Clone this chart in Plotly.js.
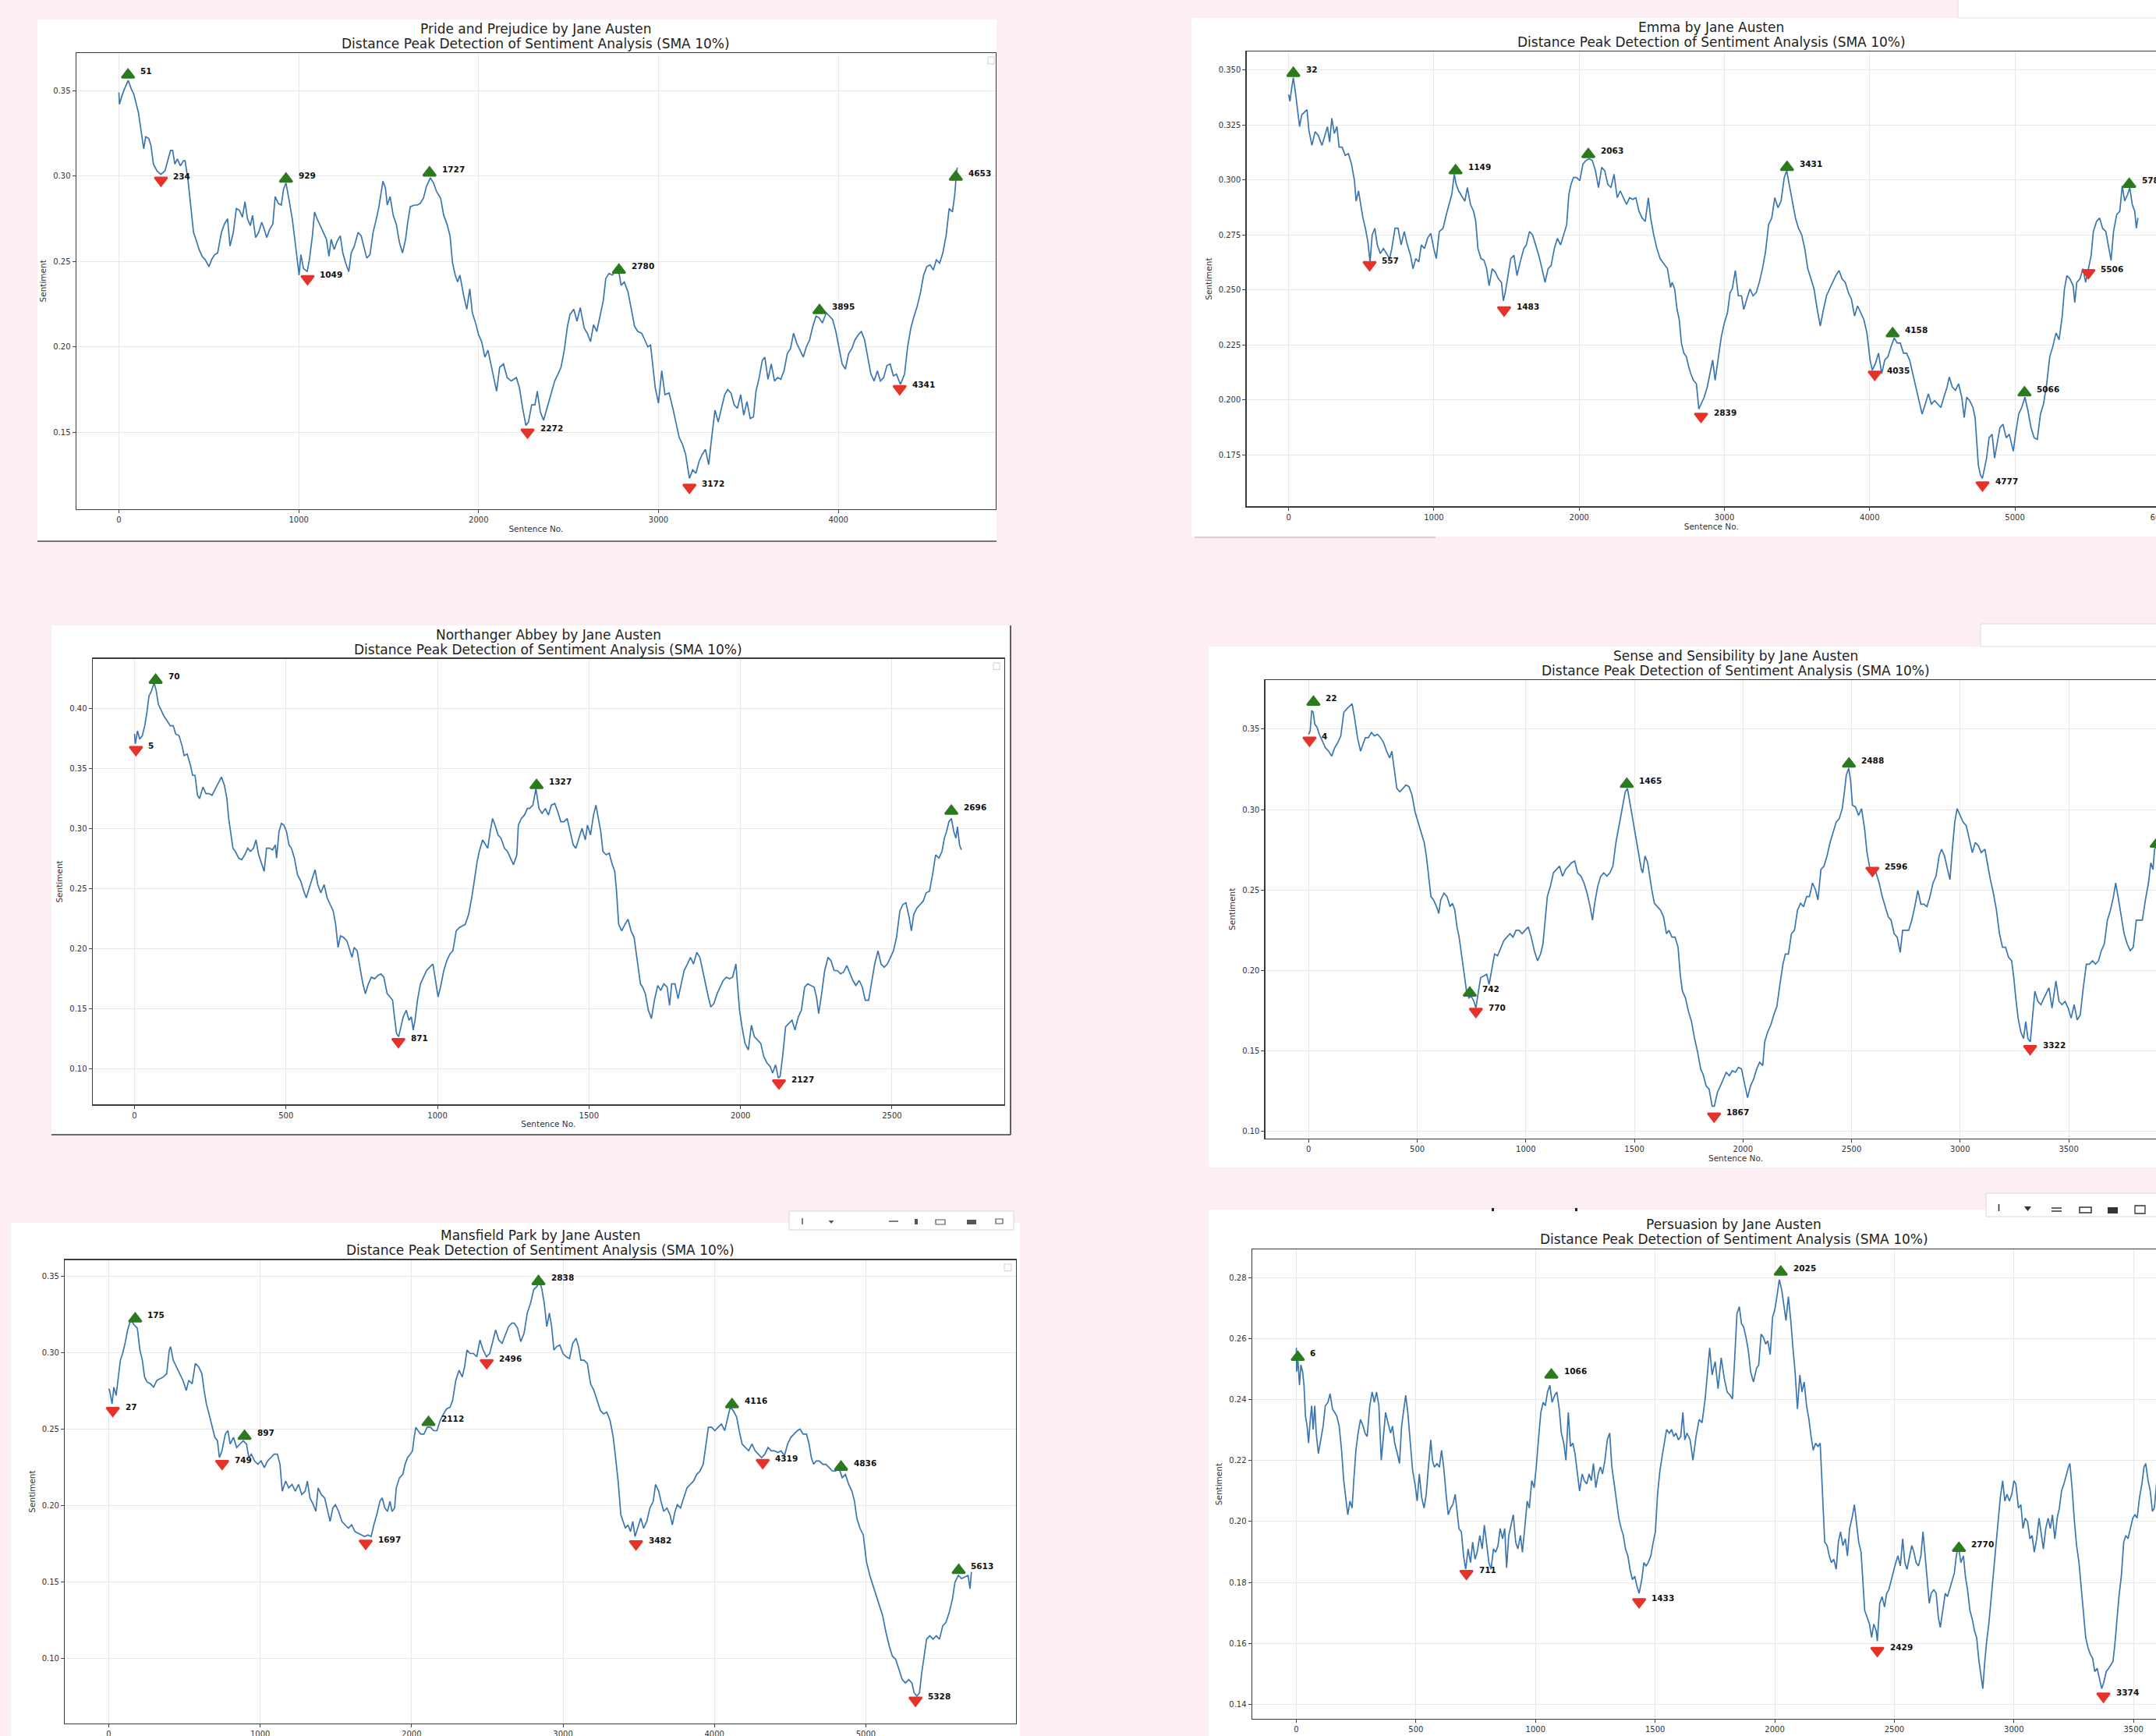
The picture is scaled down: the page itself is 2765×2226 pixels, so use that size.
<!DOCTYPE html>
<html><head><meta charset="utf-8">
<script src="https://cdn.plot.ly/plotly-3.0.1.min.js"></script>
<style>html,body{margin:0;padding:0;overflow:hidden;background:#fdeef3;}#chart{width:2860px;height:2226px;}</style>
</head><body><div id="chart"></div>
<script>
// ---------------- DATA ----------------
const bookTitles = ["Pride and Prejudice by Jane Austen","Emma by Jane Austen","Northanger Abbey by Jane Austen","Sense and Sensibility by Jane Austen","Mansfield Park by Jane Austen","Persuasion by Jane Austen"];
const subTitle = "Distance Peak Detection of Sentiment Analysis (SMA 10%)";
const xLabel = "Sentence No.";
const yLabel = "Sentiment";

const prideLine = [[0,.349],[3,.342],[17,.347],[31,.351],[52,.356],[69,.351],[83,.348],[109,.337],[131,.321],[138,.316],[149,.323],[166,.322],[178,.318],[192,.307],[212,.303],[233,.301],[256,.303],[273,.309],[287,.315],[299,.315],[311,.307],[325,.310],[342,.306],[359,.309],[368,.309],[385,.297],[402,.279],[415,.267],[428,.263],[446,.257],[463,.253],[480,.251],[501,.247],[515,.251],[532,.254],[549,.255],[570,.267],[587,.272],[604,.275],[618,.259],[636,.267],[653,.281],[670,.280],[687,.276],[701,.285],[715,.275],[731,.271],[743,.277],[760,.264],[777,.267],[794,.273],[808,.269],[822,.264],[839,.269],[856,.272],[869,.288],[886,.284],[903,.283],[915,.292],[929,.296],[946,.286],[964,.275],[978,.263],[991,.251],[1002,.242],[1012,.254],[1026,.246],[1047,.244],[1059,.251],[1076,.265],[1088,.279],[1102,.275],[1119,.271],[1136,.267],[1154,.263],[1168,.253],[1180,.263],[1197,.257],[1214,.262],[1231,.265],[1245,.255],[1261,.249],[1278,.244],[1292,.255],[1309,.259],[1330,.267],[1347,.265],[1361,.259],[1378,.252],[1396,.254],[1413,.267],[1427,.273],[1444,.281],[1456,.289],[1468,.297],[1482,.293],[1492,.283],[1508,.288],[1525,.277],[1542,.272],[1560,.261],[1577,.255],[1594,.263],[1606,.273],[1620,.282],[1641,.283],[1658,.283],[1675,.284],[1693,.287],[1710,.294],[1732,.299],[1749,.296],[1766,.291],[1789,.287],[1806,.277],[1824,.272],[1841,.265],[1855,.249],[1870,.242],[1883,.238],[1896,.242],[1917,.230],[1934,.222],[1951,.234],[1965,.220],[1983,.214],[2000,.207],[2017,.203],[2035,.194],[2052,.198],[2069,.190],[2086,.182],[2100,.174],[2117,.188],[2138,.190],[2159,.182],[2181,.180],[2210,.182],[2227,.176],[2245,.164],[2263,.154],[2277,.156],[2295,.166],[2313,.166],[2326,.174],[2343,.162],[2361,.157],[2380,.164],[2401,.172],[2423,.180],[2441,.184],[2458,.188],[2476,.198],[2494,.212],[2508,.219],[2529,.222],[2547,.215],[2565,.223],[2587,.211],[2604,.208],[2622,.203],[2639,.213],[2657,.209],[2675,.218],[2693,.227],[2707,.240],[2725,.243],[2743,.242],[2760,.244],[2778,.245],[2792,.236],[2810,.238],[2831,.232],[2849,.222],[2867,.212],[2885,.209],[2906,.208],[2924,.204],[2941,.200],[2956,.201],[2970,.186],[2982,.176],[3000,.167],[3018,.186],[3036,.172],[3059,.173],[3080,.164],[3098,.156],[3115,.147],[3133,.143],[3151,.137],[3163,.129],[3172,.123],[3190,.128],[3208,.126],[3226,.133],[3243,.137],[3261,.140],[3279,.131],[3297,.148],[3314,.163],[3332,.156],[3350,.164],[3368,.172],[3385,.175],[3403,.173],[3421,.166],[3439,.164],[3457,.172],[3474,.160],[3492,.168],[3510,.158],[3528,.159],[3542,.174],[3560,.182],[3577,.192],[3591,.194],[3609,.181],[3627,.190],[3645,.180],[3663,.182],[3680,.181],[3698,.186],[3716,.196],[3734,.199],[3751,.208],[3769,.202],[3787,.198],[3805,.194],[3822,.200],[3840,.204],[3858,.212],[3876,.218],[3893,.217],[3911,.214],[3933,.220],[3950,.218],[3968,.216],[3986,.209],[4004,.200],[4021,.190],[4039,.187],[4057,.196],[4075,.199],[4092,.204],[4110,.207],[4128,.209],[4146,.204],[4163,.194],[4181,.184],[4199,.180],[4217,.186],[4234,.180],[4252,.182],[4270,.189],[4288,.190],[4306,.183],[4323,.184],[4345,.178],[4368,.184],[4385,.200],[4403,.211],[4421,.218],[4439,.224],[4457,.232],[4474,.242],[4492,.247],[4510,.248],[4528,.245],[4545,.251],[4563,.249],[4581,.255],[4599,.265],[4616,.281],[4634,.279],[4647,.289],[4656,.301],[4661,.305]];
const pridePeaks = [[51,.3593],[929,.2983],[1727,.3019],[2780,.2450],[3895,.2213],[4653,.2995]];
const prideValleys = [[234,.2975],[1049,.2399],[2272,.1500],[3172,.1177],[4341,.1755]];

const emmaLine = [[0,.3388],[9,.3357],[19,.3411],[32,.3465],[47,.3395],[62,.3319],[75,.3242],[90,.3296],[111,.3311],[126,.3319],[139,.3226],[160,.3157],[182,.3219],[203,.3203],[229,.3157],[246,.3196],[267,.3242],[282,.3172],[297,.3280],[314,.3211],[332,.3242],[347,.3149],[368,.3149],[389,.3111],[411,.3119],[432,.3073],[453,.2996],[464,.2903],[481,.2950],[496,.2888],[511,.2827],[528,.2780],[545,.2719],[560,.2627],[575,.2750],[593,.2780],[610,.2704],[631,.2665],[652,.2688],[674,.2665],[695,.2642],[710,.2688],[732,.2780],[753,.2780],[774,.2704],[796,.2765],[817,.2704],[839,.2657],[856,.2596],[875,.2642],[896,.2627],[913,.2704],[935,.2688],[956,.2734],[978,.2757],[999,.2688],[1016,.2642],[1037,.2765],[1063,.2780],[1085,.2842],[1106,.2888],[1123,.2934],[1140,.3026],[1153,.2980],[1170,.2950],[1191,.2927],[1213,.2903],[1230,.2965],[1252,.2888],[1273,.2857],[1288,.2811],[1303,.2688],[1324,.2642],[1345,.2634],[1363,.2596],[1380,.2519],[1401,.2596],[1422,.2581],[1444,.2550],[1465,.2534],[1478,.2450],[1491,.2488],[1508,.2565],[1529,.2642],[1551,.2657],[1572,.2565],[1594,.2627],[1619,.2688],[1636,.2704],[1658,.2765],[1679,.2750],[1701,.2704],[1722,.2657],[1744,.2596],[1765,.2534],[1786,.2596],[1807,.2611],[1829,.2688],[1850,.2734],[1872,.2704],[1893,.2750],[1914,.2796],[1929,.2934],[1944,.2980],[1961,.3011],[1983,.3011],[2004,.2996],[2026,.3073],[2047,.3088],[2069,.3096],[2090,.3088],[2112,.3042],[2133,.2965],[2155,.3057],[2176,.3042],[2197,.2980],[2219,.2965],[2240,.3026],[2262,.2919],[2283,.2950],[2304,.2919],[2326,.2888],[2347,.2919],[2369,.2911],[2390,.2919],[2412,.2857],[2433,.2827],[2455,.2811],[2476,.2919],[2492,.2827],[2513,.2750],[2535,.2688],[2557,.2642],[2582,.2619],[2608,.2596],[2629,.2511],[2640,.2534],[2657,.2504],[2674,.2411],[2689,.2365],[2704,.2258],[2721,.2212],[2738,.2196],[2754,.2150],[2768,.2119],[2786,.2089],[2807,.2073],[2824,.1958],[2839,.1981],[2861,.2012],[2882,.2058],[2904,.2135],[2919,.2181],[2936,.2089],[2957,.2181],[2979,.2288],[3000,.2350],[3021,.2396],[3039,.2488],[3054,.2504],[3075,.2588],[3096,.2473],[3118,.2473],[3133,.2411],[3154,.2458],[3176,.2504],[3197,.2473],[3219,.2488],[3240,.2534],[3262,.2596],[3283,.2673],[3304,.2796],[3326,.2827],[3347,.2919],[3369,.2873],[3390,.2904],[3412,.3011],[3429,.3042],[3446,.2980],[3467,.2904],[3489,.2827],[3510,.2780],[3532,.2750],[3553,.2688],[3574,.2596],[3596,.2550],[3617,.2504],[3639,.2411],[3660,.2335],[3682,.2411],[3703,.2473],[3724,.2504],[3746,.2534],[3767,.2565],[3789,.2588],[3810,.2550],[3832,.2534],[3853,.2488],[3874,.2458],[3896,.2381],[3917,.2427],[3939,.2396],[3960,.2365],[3981,.2304],[4003,.2181],[4018,.2135],[4040,.2166],[4061,.2212],[4083,.2119],[4104,.2181],[4126,.2196],[4147,.2242],[4169,.2281],[4190,.2258],[4211,.2258],[4233,.2212],[4254,.2212],[4275,.2181],[4297,.2119],[4318,.2058],[4340,.1996],[4361,.1935],[4383,.1981],[4404,.2027],[4425,.1981],[4447,.1996],[4468,.1981],[4490,.1965],[4511,.2012],[4533,.2058],[4548,.2104],[4569,.2058],[4591,.2043],[4612,.2073],[4634,.2012],[4651,.1919],[4668,.2012],[4689,.1996],[4711,.1965],[4726,.1919],[4737,.1812],[4748,.1704],[4763,.1658],[4776,.1643],[4791,.1689],[4805,.1735],[4822,.1827],[4843,.1843],[4860,.1735],[4875,.1796],[4897,.1873],[4918,.1889],[4940,.1827],[4961,.1843],[4989,.1766],[5004,.1843],[5026,.1935],[5047,.1965],[5069,.2012],[5090,.1950],[5111,.1873],[5133,.1827],[5154,.1820],[5176,.1935],[5197,.1981],[5219,.2073],[5240,.2196],[5261,.2242],[5283,.2304],[5304,.2273],[5326,.2381],[5341,.2504],[5358,.2565],[5379,.2550],[5401,.2519],[5412,.2442],[5426,.2534],[5448,.2550],[5469,.2596],[5487,.2534],[5508,.2596],[5525,.2657],[5540,.2765],[5562,.2811],[5583,.2827],[5604,.2780],[5626,.2765],[5647,.2688],[5662,.2634],[5679,.2765],[5701,.2842],[5722,.2857],[5739,.2973],[5756,.2904],[5776,.2934],[5791,.2965],[5808,.2888],[5825,.2857],[5836,.2780],[5847,.2827]];
const emmaPeaks = [[32,.3485],[1149,.3042],[2063,.3116],[3431,.3057],[4158,.2301],[5066,.2032],[5787,.2980]];
const emmaValleys = [[557,.2614],[1483,.2408],[2839,.1924],[4035,.2116],[4777,.1612],[5506,.2578]];

const northangerLine = [[0,.3788],[3,.3705],[10,.3815],[17,.3746],[26,.3774],[34,.3857],[41,.3967],[48,.4105],[56,.4146],[65,.4215],[72,.4146],[79,.4036],[87,.3994],[97,.3939],[108,.3898],[118,.3857],[128,.3857],[136,.3788],[147,.3774],[157,.3691],[164,.3608],[174,.3622],[185,.3526],[192,.3443],[200,.3443],[208,.3277],[215,.3250],[226,.3346],[236,.3291],[246,.3291],[256,.3277],[267,.3333],[277,.3388],[287,.3429],[297,.3360],[305,.3250],[311,.3084],[318,.2947],[325,.2836],[333,.2809],[344,.2753],[354,.2740],[364,.2781],[374,.2836],[383,.2809],[393,.2836],[401,.2905],[410,.2781],[421,.2698],[428,.2643],[436,.2836],[446,.2836],[456,.2822],[465,.2864],[469,.2753],[477,.2974],[485,.3043],[493,.3029],[502,.2974],[510,.2864],[518,.2836],[528,.2753],[538,.2616],[549,.2560],[559,.2478],[567,.2422],[577,.2505],[588,.2588],[596,.2657],[605,.2533],[615,.2464],[626,.2533],[636,.2422],[646,.2367],[656,.2312],[664,.2202],[672,.2009],[680,.2105],[690,.2092],[701,.2064],[711,.1981],[718,.1926],[725,.2009],[735,.1981],[746,.1816],[754,.1705],[762,.1623],[772,.1705],[782,.1761],[793,.1747],[803,.1774],[813,.1788],[823,.1761],[834,.1623],[844,.1595],[852,.1568],[858,.1430],[865,.1292],[872,.1264],[879,.1347],[887,.1430],[897,.1485],[906,.1402],[914,.1430],[920,.1320],[926,.1402],[934,.1568],[944,.1705],[954,.1761],[964,.1816],[974,.1843],[985,.1871],[992,.1761],[1002,.1595],[1010,.1678],[1021,.1816],[1031,.1899],[1041,.1954],[1051,.1981],[1062,.2147],[1072,.2174],[1082,.2188],[1092,.2202],[1103,.2285],[1113,.2422],[1123,.2588],[1131,.2726],[1138,.2809],[1149,.2905],[1159,.2864],[1166,.2836],[1174,.2974],[1182,.3084],[1190,.3029],[1200,.2947],[1210,.2919],[1221,.2836],[1231,.2809],[1241,.2753],[1251,.2698],[1262,.2781],[1267,.3029],[1277,.3084],[1287,.3112],[1297,.3167],[1304,.3167],[1315,.3195],[1325,.3333],[1335,.3167],[1345,.3126],[1356,.3167],[1366,.3112],[1376,.3195],[1387,.3209],[1397,.3140],[1407,.3057],[1418,.3057],[1428,.3084],[1438,.2974],[1448,.2864],[1457,.2836],[1467,.2919],[1477,.3002],[1488,.2905],[1495,.3029],[1505,.2947],[1515,.3112],[1523,.3195],[1531,.3084],[1539,.2974],[1546,.2809],[1557,.2781],[1567,.2795],[1577,.2698],[1585,.2643],[1591,.2478],[1598,.2202],[1608,.2147],[1619,.2202],[1629,.2243],[1639,.2147],[1649,.2092],[1655,.1981],[1663,.1816],[1670,.1705],[1677,.1678],[1686,.1623],[1696,.1485],[1706,.1416],[1716,.1568],[1727,.1692],[1737,.1650],[1747,.1705],[1758,.1678],[1766,.1526],[1773,.1705],[1784,.1705],[1794,.1581],[1804,.1705],[1814,.1816],[1825,.1871],[1835,.1926],[1845,.1871],[1856,.1967],[1866,.1926],[1876,.1816],[1887,.1678],[1894,.1595],[1902,.1512],[1912,.1540],[1923,.1623],[1933,.1678],[1943,.1733],[1954,.1761],[1964,.1747],[1974,.1761],[1985,.1871],[1990,.1705],[1997,.1485],[2005,.1347],[2015,.1209],[2026,.1154],[2036,.1361],[2046,.1264],[2057,.1237],[2067,.1209],[2077,.1099],[2088,.1044],[2098,.1016],[2106,.0961],[2116,.1030],[2125,.0920],[2131,.0934],[2139,.1099],[2149,.1347],[2160,.1375],[2170,.1402],[2180,.1320],[2191,.1430],[2201,.1485],[2212,.1678],[2222,.1705],[2232,.1692],[2243,.1678],[2251,.1595],[2258,.1457],[2268,.1623],[2278,.1816],[2289,.1926],[2299,.1898],[2309,.1816],[2320,.1816],[2330,.1788],[2340,.1802],[2351,.1857],[2361,.1788],[2371,.1733],[2381,.1692],[2392,.1733],[2402,.1678],[2412,.1568],[2423,.1568],[2433,.1733],[2443,.1871],[2454,.1981],[2464,.1871],[2474,.1843],[2485,.1871],[2495,.1926],[2505,.1981],[2515,.2092],[2526,.2312],[2536,.2367],[2546,.2381],[2557,.2257],[2564,.2147],[2572,.2285],[2583,.2340],[2593,.2367],[2603,.2395],[2613,.2464],[2624,.2478],[2634,.2616],[2644,.2781],[2655,.2753],[2665,.2809],[2673,.2919],[2680,.2974],[2688,.3057],[2696,.3084],[2704,.2974],[2711,.2919],[2716,.3015],[2723,.2864],[2729,.2822]];
const northangerPeaks = [[70,.4237],[1327,.3360],[2696,.3145]];
const northangerValleys = [[5,.3658],[871,.1223],[2127,.0878]];

const senseLine = [[0,.3468],[7,.3489],[14,.3616],[21,.3605],[28,.3532],[39,.3511],[49,.3468],[63,.3426],[77,.3384],[92,.3363],[106,.3332],[120,.3384],[134,.3416],[148,.3458],[162,.3605],[176,.3626],[190,.3647],[200,.3658],[211,.3574],[225,.3447],[239,.3363],[251,.3405],[261,.3447],[275,.3447],[289,.3479],[303,.3458],[317,.3468],[331,.3447],[345,.3416],[359,.3363],[373,.3321],[383,.3363],[394,.3258],[406,.3132],[420,.3111],[434,.3132],[448,.3153],[462,.3143],[476,.3090],[490,.2985],[504,.2922],[518,.2859],[532,.2796],[542,.2712],[552,.2586],[563,.2460],[575,.2439],[589,.2397],[599,.2355],[608,.2439],[623,.2481],[637,.2460],[651,.2397],[662,.2418],[673,.2376],[683,.2271],[693,.2208],[704,.2103],[715,.1977],[727,.1872],[738,.1830],[749,.1840],[761,.1809],[770,.1767],[782,.1872],[792,.1956],[806,.1966],[820,.1977],[831,.1914],[842,.1998],[856,.2103],[870,.2092],[885,.2145],[899,.2187],[913,.2208],[927,.2229],[941,.2208],[955,.2250],[969,.2250],[983,.2229],[997,.2250],[1011,.2271],[1025,.2208],[1039,.2124],[1054,.2061],[1068,.2103],[1079,.2166],[1087,.2292],[1099,.2460],[1113,.2523],[1127,.2607],[1141,.2628],[1155,.2649],[1169,.2586],[1183,.2628],[1197,.2649],[1211,.2670],[1225,.2681],[1239,.2607],[1254,.2586],[1268,.2544],[1282,.2481],[1296,.2397],[1307,.2313],[1317,.2418],[1331,.2523],[1345,.2586],[1359,.2607],[1373,.2586],[1387,.2607],[1401,.2649],[1415,.2796],[1430,.2901],[1444,.3006],[1458,.3111],[1468,.3132],[1479,.3048],[1490,.2964],[1504,.2859],[1518,.2754],[1532,.2628],[1538,.2607],[1549,.2712],[1561,.2670],[1570,.2586],[1580,.2502],[1592,.2418],[1606,.2397],[1620,.2376],[1634,.2334],[1648,.2229],[1659,.2250],[1673,.2208],[1687,.2208],[1701,.2145],[1711,.1977],[1721,.1872],[1735,.1830],[1749,.1746],[1763,.1683],[1777,.1578],[1791,.1494],[1805,.1389],[1816,.1357],[1830,.1284],[1844,.1263],[1858,.1158],[1868,.1158],[1882,.1242],[1896,.1284],[1909,.1326],[1923,.1368],[1937,.1347],[1951,.1378],[1965,.1368],[1979,.1399],[1993,.1389],[2007,.1305],[2021,.1210],[2035,.1284],[2049,.1326],[2063,.1389],[2077,.1431],[2091,.1410],[2100,.1557],[2114,.1620],[2128,.1662],[2142,.1725],[2156,.1777],[2170,.1914],[2184,.2040],[2195,.2103],[2209,.2103],[2223,.2229],[2237,.2250],[2251,.2376],[2265,.2418],[2279,.2397],[2293,.2460],[2306,.2460],[2320,.2544],[2334,.2502],[2345,.2439],[2359,.2628],[2373,.2649],[2387,.2712],[2401,.2796],[2415,.2859],[2429,.2922],[2443,.2943],[2457,.3006],[2467,.3111],[2476,.3216],[2487,.3258],[2496,.3174],[2504,.3027],[2518,.3017],[2532,.2964],[2546,.3006],[2560,.2880],[2571,.2733],[2585,.2628],[2599,.2628],[2613,.2607],[2627,.2544],[2641,.2460],[2655,.2397],[2669,.2334],[2682,.2313],[2696,.2229],[2710,.2208],[2724,.2113],[2735,.2250],[2749,.2250],[2763,.2250],[2777,.2313],[2791,.2397],[2805,.2498],[2819,.2413],[2833,.2413],[2847,.2397],[2861,.2460],[2875,.2544],[2889,.2586],[2903,.2712],[2914,.2754],[2928,.2712],[2942,.2628],[2953,.2565],[2964,.2754],[2975,.2922],[2986,.3006],[3000,.2964],[3014,.2922],[3028,.2901],[3042,.2817],[3056,.2733],[3070,.2796],[3084,.2775],[3097,.2733],[3114,.2754],[3125,.2670],[3139,.2565],[3153,.2481],[3167,.2376],[3181,.2229],[3195,.2145],[3209,.2145],[3223,.2082],[3237,.2061],[3247,.1956],[3256,.1830],[3267,.1704],[3279,.1620],[3292,.1578],[3302,.1683],[3312,.1578],[3323,.1557],[3334,.1746],[3344,.1872],[3358,.1809],[3372,.1788],[3386,.1830],[3400,.1872],[3409,.1893],[3423,.1767],[3441,.1935],[3455,.1809],[3469,.1788],[3483,.1809],[3497,.1767],[3511,.1704],[3525,.1788],[3539,.1693],[3553,.1725],[3567,.1893],[3581,.2040],[3595,.2040],[3609,.2061],[3623,.2040],[3637,.2061],[3650,.2124],[3664,.2166],[3678,.2313],[3692,.2376],[3706,.2460],[3716,.2544],[3727,.2460],[3741,.2334],[3755,.2229],[3769,.2166],[3783,.2124],[3797,.2145],[3811,.2313],[3825,.2313],[3839,.2313],[3853,.2439],[3867,.2544],[3878,.2670],[3888,.2628],[3895,.2750],[3908,.2796]];
const sensePeaks = [[22,.3668],[742,.1861],[1465,.3158],[2488,.3284],[3905,.2786]];
const senseValleys = [[4,.3431],[770,.1746],[1867,.1095],[2596,.2622],[3322,.1515]];

const mansfieldLine = [[0,.2763],[6,.2752],[22,.2664],[34,.2774],[49,.2719],[65,.2840],[77,.2950],[92,.2994],[108,.3060],[125,.3148],[146,.3214],[168,.3181],[189,.3159],[206,.3016],[222,.2950],[237,.2840],[254,.2807],[275,.2796],[297,.2774],[318,.2818],[340,.2829],[361,.2840],[383,.2862],[400,.3016],[409,.3038],[426,.2950],[447,.2906],[469,.2862],[490,.2818],[512,.2752],[529,.2818],[551,.2796],[572,.2928],[594,.2906],[615,.2862],[630,.2752],[645,.2664],[662,.2599],[680,.2533],[701,.2445],[718,.2423],[731,.2313],[748,.2357],[770,.2467],[787,.2489],[802,.2401],[824,.2445],[845,.2379],[867,.2401],[888,.2423],[910,.2401],[925,.2313],[942,.2335],[963,.2291],[985,.2269],[1006,.2291],[1028,.2247],[1049,.2291],[1071,.2313],[1092,.2335],[1114,.2335],[1131,.2269],[1146,.2093],[1168,.2159],[1189,.2115],[1211,.2137],[1232,.2093],[1254,.2137],[1275,.2071],[1297,.2093],[1312,.2159],[1329,.2049],[1351,.2005],[1368,.1961],[1383,.2115],[1404,.2071],[1426,.2049],[1447,.1961],[1462,.1895],[1480,.1983],[1497,.2005],[1518,.1961],[1540,.1895],[1561,.1873],[1583,.1851],[1604,.1873],[1626,.1829],[1647,.1818],[1669,.1807],[1690,.1796],[1712,.1807],[1733,.1796],[1751,.1873],[1770,.1939],[1791,.2027],[1806,.2049],[1824,.1983],[1841,.1961],[1858,.2027],[1871,.1961],[1888,.1983],[1899,.2115],[1920,.2181],[1942,.2203],[1957,.2269],[1974,.2313],[1991,.2335],[2006,.2357],[2017,.2445],[2028,.2511],[2043,.2489],[2060,.2467],[2082,.2467],[2103,.2511],[2125,.2511],[2146,.2489],[2168,.2489],[2189,.2555],[2211,.2599],[2232,.2632],[2254,.2642],[2271,.2686],[2292,.2818],[2314,.2884],[2335,.2840],[2350,.2906],[2366,.3016],[2387,.2994],[2409,.2994],[2430,.2972],[2452,.3082],[2473,.3016],[2495,.2972],[2516,.2994],[2533,.3060],[2555,.3148],[2576,.3082],[2598,.3060],[2619,.3115],[2641,.3170],[2662,.3192],[2678,.3192],[2700,.3159],[2721,.3071],[2743,.3126],[2764,.3258],[2786,.3324],[2807,.3412],[2829,.3434],[2846,.3467],[2861,.3412],[2876,.3324],[2893,.3170],[2910,.3258],[2925,.3170],[2940,.3016],[2957,.3038],[2979,.3049],[3000,.2994],[3021,.2972],[3043,.2961],[3064,.3060],[3086,.3093],[3103,.3038],[3118,.2950],[3139,.2950],[3161,.2928],[3182,.2796],[3204,.2752],[3225,.2686],[3247,.2620],[3268,.2599],[3289,.2610],[3311,.2555],[3332,.2445],[3347,.2313],[3364,.2159],[3382,.1939],[3397,.1895],[3412,.1851],[3429,.1873],[3446,.1829],[3461,.1895],[3476,.1796],[3493,.1851],[3514,.1917],[3532,.1851],[3553,.1895],[3574,.1983],[3596,.2027],[3611,.2137],[3632,.2093],[3647,.2027],[3665,.1961],[3686,.1983],[3707,.1939],[3722,.1873],[3740,.1961],[3755,.2005],[3776,.1983],[3797,.2049],[3819,.2115],[3840,.2137],[3862,.2159],[3883,.2203],[3905,.2225],[3926,.2269],[3943,.2401],[3960,.2511],[3982,.2511],[4003,.2489],[4024,.2511],[4046,.2533],[4068,.2489],[4089,.2577],[4104,.2642],[4125,.2620],[4147,.2577],[4168,.2467],[4183,.2401],[4205,.2379],[4226,.2357],[4248,.2401],[4269,.2357],[4290,.2335],[4312,.2313],[4333,.2335],[4354,.2379],[4376,.2357],[4397,.2357],[4419,.2346],[4440,.2357],[4462,.2324],[4483,.2401],[4505,.2445],[4526,.2467],[4548,.2489],[4565,.2500],[4586,.2467],[4608,.2467],[4625,.2401],[4640,.2313],[4655,.2269],[4672,.2291],[4693,.2291],[4715,.2269],[4736,.2269],[4758,.2247],[4779,.2225],[4801,.2225],[4822,.2247],[4844,.2181],[4865,.2203],[4887,.2137],[4908,.2093],[4925,.2027],[4940,.1917],[4961,.1851],[4983,.1807],[5004,.1631],[5026,.1543],[5047,.1477],[5069,.1411],[5090,.1345],[5111,.1279],[5133,.1169],[5154,.1081],[5175,.1015],[5197,.0993],[5219,.0927],[5240,.0861],[5261,.0839],[5283,.0861],[5304,.0839],[5319,.0774],[5337,.0752],[5354,.0774],[5369,.0905],[5384,.1015],[5401,.1125],[5422,.1147],[5444,.1125],[5465,.1147],[5486,.1125],[5508,.1213],[5529,.1235],[5551,.1301],[5572,.1389],[5589,.1499],[5611,.1543],[5632,.1521],[5654,.1532],[5675,.1543],[5688,.1455],[5697,.1565]];
const mansfieldPeaks = [[175,.3221],[897,.2453],[2112,.2544],[2838,.3465],[4116,.2660],[4836,.2251],[5613,.1576]];
const mansfieldValleys = [[27,.2620],[749,.2273],[1697,.1752],[2496,.2933],[3482,.1748],[4319,.2280],[5328,.0725]];

const persuasionLine = [[0,.2570],[1,.2492],[6,.2537],[13,.2447],[19,.2514],[26,.2492],[32,.2447],[38,.2346],[45,.2313],[51,.2257],[58,.2335],[64,.2380],[70,.2302],[77,.2380],[83,.2290],[92,.2223],[102,.2268],[112,.2313],[121,.2380],[132,.2391],[141,.2419],[151,.2369],[160,.2358],[169,.2346],[179,.2313],[189,.2234],[198,.2134],[207,.2067],[215,.2022],[224,.2067],[233,.2044],[240,.2134],[249,.2234],[258,.2290],[268,.2335],[279,.2313],[287,.2290],[296,.2279],[307,.2380],[317,.2425],[326,.2391],[335,.2425],[345,.2380],[355,.2201],[364,.2290],[373,.2358],[383,.2324],[394,.2290],[402,.2313],[411,.2257],[422,.2223],[431,.2190],[440,.2313],[447,.2358],[457,.2414],[466,.2358],[475,.2268],[486,.2167],[496,.2123],[505,.2067],[514,.2156],[524,.2078],[534,.2044],[543,.2089],[552,.2178],[562,.2268],[569,.2201],[577,.2178],[588,.2190],[598,.2178],[607,.2234],[616,.2178],[626,.2089],[635,.2022],[645,.2044],[654,.2055],[664,.2089],[671,.2044],[680,.1976],[690,.1965],[699,.1887],[708,.1843],[718,.1910],[728,.1865],[737,.1932],[747,.1876],[756,.1899],[767,.1954],[777,.1910],[786,.1988],[795,.1932],[805,.1865],[814,.1843],[824,.1910],[833,.1899],[843,.1921],[852,.1977],[862,.1943],[871,.1977],[879,.1848],[888,.1954],[897,.1988],[907,.2022],[917,.1932],[926,.1910],[937,.1954],[945,.1899],[956,.1988],[965,.2067],[974,.2044],[984,.2134],[994,.2111],[1003,.2179],[1012,.2268],[1022,.2358],[1032,.2391],[1041,.2380],[1050,.2425],[1060,.2447],[1069,.2391],[1080,.2414],[1089,.2425],[1099,.2369],[1108,.2290],[1118,.2257],[1127,.2201],[1137,.2358],[1146,.2246],[1156,.2257],[1165,.2223],[1175,.2156],[1184,.2100],[1195,.2156],[1204,.2134],[1214,.2123],[1224,.2156],[1233,.2134],[1242,.2190],[1252,.2111],[1262,.2156],[1271,.2179],[1280,.2156],[1290,.2201],[1300,.2268],[1310,.2290],[1319,.2179],[1329,.2123],[1339,.2067],[1348,.2011],[1358,.1977],[1367,.1954],[1376,.1910],[1386,.1887],[1395,.1843],[1405,.1809],[1415,.1820],[1424,.1787],[1433,.1764],[1444,.1809],[1453,.1865],[1462,.1854],[1471,.1865],[1482,.1887],[1492,.1932],[1501,.1966],[1510,.2089],[1520,.2167],[1531,.2223],[1540,.2268],[1548,.2302],[1559,.2290],[1569,.2302],[1578,.2279],[1587,.2290],[1597,.2268],[1607,.2279],[1616,.2358],[1624,.2268],[1633,.2290],[1646,.2268],[1658,.2201],[1671,.2279],[1684,.2335],[1696,.2324],[1709,.2402],[1718,.2481],[1728,.2570],[1738,.2481],[1751,.2525],[1763,.2436],[1776,.2537],[1789,.2470],[1801,.2425],[1814,.2414],[1823,.2402],[1832,.2526],[1842,.2682],[1852,.2705],[1861,.2649],[1870,.2638],[1880,.2604],[1890,.2559],[1899,.2492],[1911,.2458],[1924,.2503],[1933,.2514],[1943,.2615],[1953,.2604],[1962,.2582],[1971,.2593],[1981,.2548],[1991,.2671],[2000,.2694],[2009,.2738],[2019,.2794],[2029,.2761],[2038,.2716],[2047,.2660],[2057,.2738],[2067,.2660],[2076,.2570],[2085,.2492],[2095,.2369],[2105,.2481],[2114,.2425],[2123,.2458],[2133,.2380],[2143,.2335],[2152,.2279],[2161,.2234],[2171,.2257],[2181,.2246],[2190,.2257],[2196,.2156],[2203,.2044],[2209,.1932],[2219,.1921],[2228,.1887],[2237,.1865],[2247,.1876],[2257,.1843],[2266,.1932],[2275,.1966],[2285,.1921],[2295,.1943],[2304,.1887],[2313,.1977],[2323,.2011],[2333,.2055],[2342,.1999],[2351,.1932],[2361,.1899],[2367,.1820],[2376,.1708],[2386,.1686],[2396,.1663],[2405,.1619],[2414,.1663],[2424,.1641],[2429,.1607],[2439,.1731],[2449,.1753],[2459,.1719],[2468,.1764],[2477,.1776],[2487,.1809],[2497,.1843],[2506,.1865],[2515,.1887],[2525,.1854],[2535,.1943],[2544,.1865],[2553,.1843],[2563,.1887],[2573,.1921],[2582,.1899],[2591,.1865],[2601,.1854],[2611,.1887],[2620,.1966],[2629,.1887],[2637,.1820],[2646,.1731],[2654,.1764],[2665,.1776],[2675,.1764],[2684,.1686],[2692,.1652],[2703,.1708],[2713,.1764],[2722,.1753],[2730,.1776],[2741,.1809],[2751,.1831],[2759,.1887],[2768,.1921],[2778,.1865],[2789,.1887],[2797,.1820],[2806,.1776],[2816,.1708],[2827,.1675],[2835,.1641],[2844,.1619],[2854,.1540],[2863,.1484],[2870,.1451],[2877,.1529],[2886,.1607],[2895,.1663],[2905,.1753],[2915,.1843],[2924,.1921],[2933,.1987],[2943,.2078],[2953,.2134],[2962,.2067],[2971,.2089],[2981,.2067],[2991,.2089],[3000,.2134],[3008,.2123],[3019,.2044],[3029,.2055],[3038,.1977],[3047,.2011],[3057,.1999],[3067,.1943],[3076,.1954],[3085,.1899],[3095,.1943],[3105,.2011],[3114,.1966],[3123,.1910],[3133,.1977],[3143,.2011],[3152,.1977],[3161,.2022],[3171,.1943],[3181,.2011],[3190,.2044],[3199,.2100],[3209,.2123],[3219,.2156],[3228,.2179],[3234,.2190],[3243,.2111],[3253,.1999],[3262,.1921],[3272,.1865],[3281,.1787],[3291,.1697],[3300,.1619],[3310,.1585],[3320,.1563],[3329,.1551],[3338,.1507],[3348,.1518],[3357,.1484],[3367,.1451],[3376,.1473],[3386,.1507],[3396,.1518],[3405,.1529],[3414,.1540],[3422,.1596],[3430,.1675],[3439,.1753],[3449,.1820],[3459,.1932],[3468,.1954],[3477,.1943],[3487,.1977],[3497,.2011],[3506,.2022],[3515,.2011],[3525,.2078],[3535,.2123],[3544,.2179],[3551,.2190],[3561,.2134],[3570,.2100],[3579,.2033],[3587,.2044],[3604,.2190]];
const persuasionPeaks = [[6,.2539],[1066,.2481],[2025,.2819],[2770,.1912]];
const persuasionValleys = [[711,.1829],[1433,.1736],[2429,.1576],[3374,.1426]];

// ---------------- LAYOUT (positions in page pixels) ----------------
const W = 2860, H = 2226;
const PX = v => v / W, PY = v => 1 - v / H;
const FONT = "DejaVu Sans, Verdana, sans-serif";
const LINE_C = "#3a76b0", PEAK_C = "#2b7b1e", VALLEY_C = "#e5332a";

const panels = [
  {line: prideLine, peaks: pridePeaks, valleys: prideValleys, box:[97.8,1277,67.7,653], xr:[-237,4875], yr:[0.1049,0.3722], xd:1000, yd:0.05, yf:'.2f', t:[36.5,55.6], xt:true},
  {line: emmaLine, peaks: emmaPeaks, valleys: emmaValleys, box:[1598.5,2791,65.7,649.4], xr:[-291,6111], yr:[0.1515,0.3585], xd:1000, yd:0.025, yf:'.3f', t:[34.5,54], xt:true},
  {line: northangerLine, peaks: northangerPeaks, valleys: northangerValleys, box:[118.8,1287.7,844.6,1416.3], xr:[-138,2870], yr:[0.0699,0.4416], xd:500, yd:0.05, yf:'.2f', t:[814,833.2], xt:true},
  {line: senseLine, peaks: sensePeaks, valleys: senseValleys, box:[1622.6,2829.4,872,1459.6], xr:[-200,4133], yr:[0.0958,0.3805], xd:500, yd:0.05, yf:'.2f', t:[840.8,860.3], xt:true},
  {line: mansfieldLine, peaks: mansfieldPeaks, valleys: mansfieldValleys, box:[83.1,1302.5,1615.5,2209.5], xr:[-290,5989], yr:[0.0576,0.3606], xd:1000, yd:0.05, yf:'.2f', t:[1583.6,1603], xt:false},
  {line: persuasionLine, peaks: persuasionPeaks, valleys: persuasionValleys, box:[1605.8,2842,1602.1,2204], xr:[-185,3845], yr:[0.1352,0.2893], xd:500, yd:0.02, yf:'.2f', t:[1569.7,1589.4], xt:false}
];

const traces = [];
const layout = {
  width: W, height: H, margin:{l:0,r:0,t:0,b:0,pad:0},
  paper_bgcolor: "#fdeef3", plot_bgcolor: "#ffffff",
  showlegend: false, font:{family: FONT, color:"#333"},
  annotations: [], shapes: []
};

// white screenshot panels and decorations (page pixels)
function rect(x0,x1,y0,y1,fill,lc,lw){ layout.shapes.push({type:'rect',xref:'paper',yref:'paper',x0:PX(x0),x1:PX(x1),y0:PY(y1),y1:PY(y0),fillcolor:fill,line:{color:lc||fill,width:lw||0},layer:'below'}); }
function seg(x0,y0,x1,y1,c,w){ layout.shapes.push({type:'line',xref:'paper',yref:'paper',x0:PX(x0),x1:PX(x1),y0:PY(y0),y1:PY(y1),line:{color:c,width:w},layer:'below'}); }
function tri(cx,cy,w,h,c){ layout.shapes.push({type:'path',xref:'paper',yref:'paper',path:'M'+PX(cx-w/2)+','+PY(cy-h/2)+'L'+PX(cx+w/2)+','+PY(cy-h/2)+'L'+PX(cx)+','+PY(cy+h/2)+'Z',fillcolor:c,line:{color:c,width:0},layer:'below'}); }
rect(48,1278,25,694,'#ffffff');
rect(1528,2870,23,688,'#ffffff');
rect(2511,2870,-5,23,'#ffffff','#e6dde1',1);
rect(66,1296,802,1455,'#ffffff');
rect(1550,2870,829,1497,'#ffffff');
rect(2540,2870,800,829,'#ffffff','#e0d8dc',1);
rect(14,1308,1568,2240,'#ffffff');
rect(1550,2870,1551,2240,'#ffffff');
seg(48,694,1278,694,'#4a4a4a',1.6);
seg(1296,802,1296,1455,'#3a3a3a',1.6);
seg(66,1455,1296,1455,'#3a3a3a',1.6);
seg(1532,689,1841,689,'#c8c8c8',1.5);
// toolbars (Jupyter widget) with partially visible icons
rect(1012,1300,1553,1577,'#ffffff','#d6d6d6',1);
seg(1029,1562,1029,1570,'#555',1.5);
tri(1066,1567,7,4,'#555');
seg(1140,1566,1152,1566,'#555',1.5);
rect(1173,1177,1563,1570,'#555');
rect(1200,1212,1564,1570,'#ffffff','#555',1.2);
rect(1240,1252,1564,1570,'#555');
rect(1277,1286,1563,1569,'#ffffff','#555',1.2);
rect(2547,2870,1530,1560,'#ffffff','#d6d6d6',1);
seg(2563.5,1544,2563.5,1553,'#333',1.6);
tri(2600.5,1550,9,6,'#333');
seg(2631,1549,2644,1549,'#333',1.5);
seg(2631,1553,2644,1553,'#333',1.5);
rect(2667,2682,1548,1555,'#ffffff','#333',1.5);
rect(2703,2716,1548,1556,'#333');
rect(2738,2751,1546,1556,'#ffffff','#333',1.3);
// cut-off glyphs above Persuasion panel
rect(1913,1916,1549,1553,'#222');
rect(2020,2023,1549,1553,'#222');
// empty legend boxes
rect(1267,1275,73,82,'#ffffff','#d0d0d0',1);
rect(1274,1282,850,858.6,'#ffffff','#d0d0d0',1);
rect(1288,1297,1621,1629.7,'#ffffff','#d0d0d0',1);

panels.forEach((p, i) => {
  const n = i === 0 ? '' : String(i + 1);
  const xa = 'xaxis' + n, ya = 'yaxis' + n, xr = 'x' + n, yr = 'y' + n;
  const [l, r, t, b] = p.box;
  const axisCommon = {showline:true, mirror:true, linecolor:'#3c3c3c', linewidth:1.2, showgrid:true, gridcolor:'#e9e9e9', gridwidth:1,
    zeroline:false, ticks:'outside', ticklen:4, tickwidth:1, tickcolor:'#444', tickfont:{family:FONT,size:10,color:'#333'}, automargin:false};
  layout[xa] = Object.assign({}, axisCommon, {domain:[PX(l), PX(r)], range:p.xr, anchor:yr, tick0:0, dtick:p.xd, tickformat:'d',
    title:{text: p.xt ? xLabel : '', font:{family:FONT,size:10.5,color:'#333'}, standoff:3}});
  layout[ya] = Object.assign({}, axisCommon, {domain:[PY(b), PY(t)], range:p.yr, anchor:xr, tick0:0, dtick:p.yd, tickformat:p.yf,
    title:{text:yLabel, font:{family:FONT,size:10.5,color:'#333'}, standoff:6}});

  traces.push({type:'scatter', mode:'lines', xaxis:xr, yaxis:yr, x:p.line.map(d=>d[0]), y:p.line.map(d=>d[1]),
    line:{color:LINE_C, width:1.7}, hoverinfo:'skip'});
  traces.push({type:'scatter', mode:'markers', xaxis:xr, yaxis:yr, x:p.peaks.map(d=>d[0]), y:p.peaks.map(d=>d[1]),
    marker:{symbol:'triangle-up', size:14, color:PEAK_C, line:{color:PEAK_C, width:2.5}}, cliponaxis:false, hoverinfo:'skip'});
  traces.push({type:'scatter', mode:'markers', xaxis:xr, yaxis:yr, x:p.valleys.map(d=>d[0]), y:p.valleys.map(d=>d[1]),
    marker:{symbol:'triangle-down', size:14, color:VALLEY_C, line:{color:VALLEY_C, width:2.5}}, cliponaxis:false, hoverinfo:'skip'});

  p.peaks.concat(p.valleys).forEach(d => {
    layout.annotations.push({xref:xr, yref:yr, x:d[0], y:d[1], text:'<b>'+d[0]+'</b>', showarrow:false,
      xanchor:'left', yanchor:'middle', xshift:14, yshift:5, font:{family:FONT, size:10.5, color:'#111'}});
  });

  const cx = PX((l + r) / 2);
  layout.annotations.push({xref:'paper', yref:'paper', x:cx, y:PY(p.t[0]), text:bookTitles[i], showarrow:false,
    xanchor:'center', yanchor:'middle', font:{family:FONT, size:17, color:'#1e1e1e'}});
  layout.annotations.push({xref:'paper', yref:'paper', x:cx, y:PY(p.t[1]), text:subTitle, showarrow:false,
    xanchor:'center', yanchor:'middle', font:{family:FONT, size:17, color:'#1e1e1e'}});
});

Plotly.newPlot('chart', traces, layout, {displayModeBar:false, staticPlot:true});
</script>
</body></html>
